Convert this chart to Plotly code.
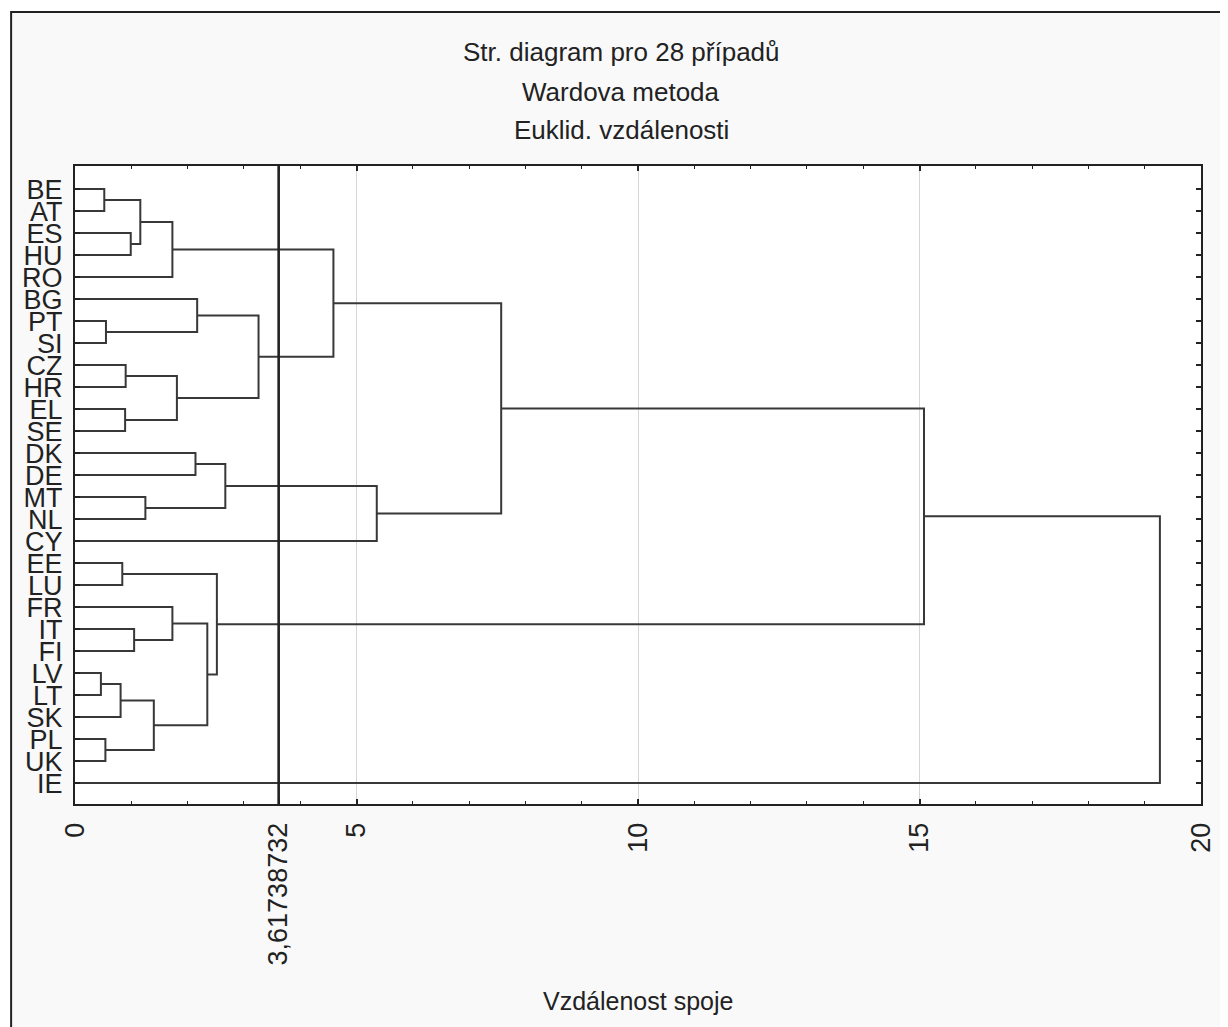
import plotly.graph_objects as go

# ---- data ----
labels = ["BE", "AT", "ES", "HU", "RO", "BG", "PT", "SI", "CZ", "HR", "EL", "SE",
          "DK", "DE", "MT", "NL", "CY", "EE", "LU", "FR", "IT", "FI", "LV", "LT",
          "SK", "PL", "UK", "IE"]
# merges: new cluster ids start at 28, in this order
merge_left = [22, 0, 25, 6, 28, 17, 8, 10, 2, 20, 29, 14, 32, 38, 19, 34, 12, 5,
              42, 33, 44, 45, 41, 48, 50, 52, 53]
merge_right = [23, 1, 26, 7, 24, 18, 9, 11, 3, 21, 36, 15, 30, 4, 37, 35, 13, 31,
               40, 46, 39, 43, 49, 16, 51, 47, 27]
merge_height = [0.46, 0.52, 0.54, 0.55, 0.81, 0.84, 0.90, 0.89, 0.99, 1.05, 1.16,
                1.25, 1.40, 1.73, 1.73, 1.81, 2.14, 2.17, 2.35, 2.52, 2.67, 3.26,
                4.59, 5.36, 7.57, 15.08, 19.27]
cut_value = 3.61738732
x_tickvals = [0, cut_value, 5, 10, 15, 20]
x_ticktext = ["0", "3,61738732", "5", "10", "15", "20"]

title_lines = ["Str. diagram pro 28 případů", "Wardova metoda", "Euklid. vzdálenosti"]
x_title = "Vzdálenost spoje"

# ---- build dendrogram segments ----
n = len(labels)
pos_y = {i: float(i) for i in range(n)}
pos_x = {i: 0.0 for i in range(n)}
xs, ys = [], []
for k, (a, b, h) in enumerate(zip(merge_left, merge_right, merge_height)):
    cid = n + k
    ya, yb = pos_y[a], pos_y[b]
    xa, xb = pos_x[a], pos_x[b]
    xs += [xa, h, h, xb, None]
    ys += [ya, ya, yb, yb, None]
    pos_y[cid] = (ya + yb) / 2.0
    pos_x[cid] = h

fig = go.Figure()
fig.add_trace(go.Scatter(x=xs, y=ys, mode="lines",
                         line=dict(color="#383838", width=2),
                         hoverinfo="skip", showlegend=False))

# page has an 8px body margin: figure coordinates = screen coordinates - 8
OFF = 8
W, H = 1228 - OFF, 1027 - OFF
L, R, T, B = 75 - OFF, 1203 - OFF, 166 - OFF, 804 - OFF
pw, ph = R - L, B - T

def px2paper_x(px):
    return (px - OFF - L) / pw

def px2paper_y(py):
    return (B - (py - OFF)) / ph

# outer frame and plot area background
fig.add_shape(type="rect", xref="paper", yref="paper",
              x0=px2paper_x(11), x1=px2paper_x(1245), y0=px2paper_y(1045), y1=px2paper_y(12),
              line=dict(color="#222222", width=2), fillcolor="#f9f9f9", layer="below")
fig.add_shape(type="rect", xref="paper", yref="paper", x0=0, x1=1, y0=0, y1=1,
              line=dict(width=0), fillcolor="white", layer="below")
# cut line
fig.add_shape(type="line", xref="x", yref="paper", x0=cut_value, x1=cut_value, y0=0, y1=1,
              line=dict(color="#222222", width=2.6))

font_main = "Liberation Sans, Arial, sans-serif"
font_narrow = "Liberation Sans Narrow, Liberation Sans, Arial, sans-serif"

for txt, py in zip(title_lines, [52, 92, 130]):
    fig.add_annotation(text=txt, xref="paper", yref="paper",
                       x=px2paper_x(622), y=px2paper_y(py), xanchor="center", yanchor="middle",
                       showarrow=False, font=dict(family=font_main, size=26, color="#222222"))
fig.add_annotation(text=x_title, xref="paper", yref="paper",
                   x=px2paper_x(639), y=px2paper_y(1001), xanchor="center", yanchor="middle",
                   showarrow=False, font=dict(family=font_main, size=25, color="#222222"))

fig.update_layout(
    width=W, height=H,
    margin=dict(l=L, r=W - R, t=T, b=H - B, pad=0),
    paper_bgcolor="white", plot_bgcolor="white",
    showlegend=False,
)
fig.update_xaxes(
    range=[0, 20], tickmode="array", tickvals=x_tickvals, ticktext=x_ticktext,
    tickangle=-90, ticks="inside", ticklen=5, tickcolor="#222222", tickwidth=1.5,
    minor=dict(dtick=1, ticks="inside", ticklen=3, tickcolor="#222222", tickwidth=1.2, showgrid=False),
    showgrid=True, gridcolor="#d6d6d6", gridwidth=1,
    showline=True, linecolor="#222222", linewidth=2, mirror="ticks",
    zeroline=False, ticklabelstandoff=6,
    tickfont=dict(family=font_main, size=27, color="#222222"),
)
fig.update_yaxes(
    range=[27.95, -1.05], tickmode="array", tickvals=list(range(n)), ticktext=labels,
    ticks="inside", ticklen=5, tickcolor="#222222", tickwidth=1.5,
    showgrid=False, zeroline=False,
    showline=True, linecolor="#222222", linewidth=2, mirror="ticks",
    ticklabelstandoff=5,
    tickfont=dict(family=font_narrow, size=27, color="#222222"),
)

fig.write_html("out.html")
